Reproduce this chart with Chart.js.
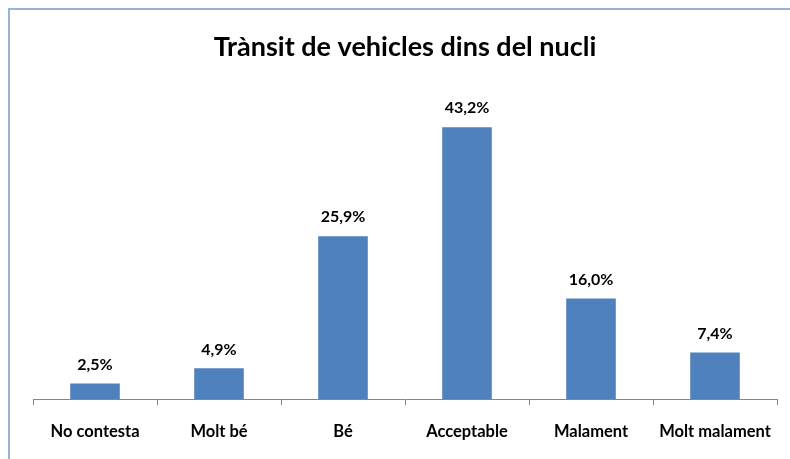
<!DOCTYPE html>
<html>
<head>
<meta charset="utf-8">
<script src="https://cdn.jsdelivr.net/npm/chart.js@4"></script>
<style>
  html, body { margin: 0; padding: 0; background: #fff; }
  #wrap { position: relative; width: 790px; height: 459px; }
  #frame { position: absolute; left: 8px; top: 8px; width: 800px; height: 470px; border-left: 2px solid #95B3D7; border-top: 2px solid #95B3D7; }
  canvas { position: absolute; left: 0; top: 0; }
</style>
</head>
<body>
<div id="wrap">
  <div id="frame"></div>
  <canvas id="chart" width="790" height="459"></canvas>
</div>
<script>
const categories = ["No contesta", "Molt bé", "Bé", "Acceptable", "Malament", "Molt malament"];
const percentages = [2.5, 4.9, 25.9, 43.2, 16.0, 7.4];
const chartTitle = "Trànsit de vehicles dins del nucli";

const FONT = "Lato, 'Open Sans', sans-serif";

// etiquetes de valor sobre cada barra
const valueLabels = {
    id: "valueLabels",
    afterDatasetsDraw(chart) {
        const ctx = chart.ctx;
        const meta = chart.getDatasetMeta(0);
        ctx.save();
        ctx.font = "bold 16px " + FONT;
        ctx.fillStyle = "#000";
        ctx.textAlign = "center";
        ctx.textBaseline = "middle";
        meta.data.forEach((bar, i) => {
            const txt = percentages[i].toFixed(1).replace(".", ",") + "%";
            ctx.fillText(txt, bar.x, bar.y - 19);
        });
        ctx.restore();
    }
};

const ctx = document.getElementById("chart").getContext("2d");
new Chart(ctx, {
    type: "bar",
    data: {
        labels: categories,
        datasets: [{
            data: percentages,
            backgroundColor: "#4F81BD",
            borderWidth: 0,
            categoryPercentage: 1,
            barPercentage: 0.4
        }]
    },
    options: {
        responsive: false,
        animation: false,
        layout: { padding: { left: 33, right: 13, top: 0, bottom: 0 } },
        plugins: {
            legend: { display: false },
            tooltip: { enabled: false },
            title: {
                display: true,
                text: chartTitle,
                color: "#000",
                font: { family: FONT, size: 27, weight: "bold" },
                padding: { top: 31, bottom: 21 }
            }
        },
        scales: {
            x: {
                grid: {
                    display: true,
                    drawOnChartArea: false,
                    drawTicks: true,
                    tickLength: 6,
                    offset: true,
                    color: "#868686"
                },
                border: { display: true, color: "#868686", width: 1 },
                ticks: {
                    color: "#000",
                    padding: 17,
                    font: { family: FONT, size: 16.5, weight: "bold" },
                    maxRotation: 0
                }
            },
            y: {
                display: false,
                min: 0,
                max: 50
            }
        }
    },
    plugins: [valueLabels]
});
</script>
</body>
</html>
